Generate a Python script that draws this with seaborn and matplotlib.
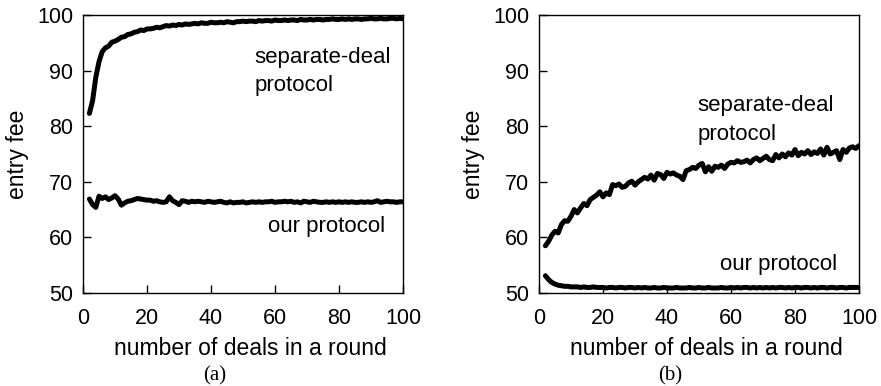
import matplotlib
matplotlib.use("Agg")
import matplotlib.pyplot as plt
import seaborn as sns
import numpy as np
import pandas as pd

sns.set_theme(style="white")
plt.rcParams['font.family'] = ['Liberation Sans', 'DejaVu Sans']
plt.rcParams['text.color'] = 'black'
plt.rcParams['axes.labelcolor'] = 'black'

deals = list(range(2, 101))

a_separate = [
    82.3, 84.6, 88.8, 91.6, 93.4, 94.1, 94.4, 95.1, 95.3, 95.6,
    96.0, 96.1, 96.5, 96.6, 96.9, 97.0, 97.3, 97.2, 97.5, 97.5,
    97.6, 97.8, 97.7, 97.9, 98.1, 98.0, 98.2, 98.1, 98.3, 98.2,
    98.4, 98.3, 98.4, 98.5, 98.4, 98.6, 98.5, 98.5, 98.7, 98.6,
    98.6, 98.7, 98.6, 98.8, 98.7, 98.6, 98.8, 98.8, 98.9, 98.8,
    98.9, 98.9, 98.8, 99.0, 98.9, 99.0, 99.0, 98.9, 99.1, 99.0,
    99.0, 99.1, 99.0, 99.1, 99.1, 99.0, 99.2, 99.1, 99.1, 99.2,
    99.1, 99.2, 99.2, 99.1, 99.2, 99.2, 99.3, 99.2, 99.2, 99.3,
    99.2, 99.3, 99.2, 99.3, 99.3, 99.2, 99.3, 99.3, 99.4, 99.3,
    99.3, 99.4, 99.3, 99.3, 99.4, 99.4, 99.3, 99.4, 99.3,
]
a_ours = [
    66.9, 65.9, 65.4, 67.4, 67.0, 67.3, 66.8, 67.1, 67.5, 66.9,
    65.8, 66.2, 66.5, 66.6, 66.8, 67.0, 66.9, 66.8, 66.7, 66.7,
    66.5, 66.6, 66.4, 66.3, 66.4, 67.3, 66.6, 66.3, 65.9, 66.6,
    66.5, 66.3, 66.5, 66.4, 66.5, 66.4, 66.3, 66.5, 66.4, 66.3,
    66.4, 66.5, 66.3, 66.2, 66.4, 66.2, 66.3, 66.3, 66.4, 66.2,
    66.3, 66.4, 66.3, 66.4, 66.3, 66.4, 66.4, 66.5, 66.3, 66.4,
    66.4, 66.5, 66.4, 66.5, 66.3, 66.4, 66.2, 66.5, 66.4, 66.3,
    66.5, 66.4, 66.3, 66.3, 66.4, 66.3, 66.4, 66.3, 66.4, 66.3,
    66.4, 66.3, 66.4, 66.3, 66.3, 66.4, 66.3, 66.4, 66.3, 66.4,
    66.6, 66.3, 66.4, 66.5, 66.4, 66.4, 66.3, 66.4, 66.4,
]
b_separate = [
    58.5, 59.3, 60.4, 61.1, 60.8, 62.3, 63.0, 62.9, 63.8, 65.0,
    64.4, 65.3, 66.1, 65.7, 66.8, 67.2, 67.6, 68.2, 67.3, 68.0,
    67.7, 69.5, 69.3, 69.6, 69.0, 69.2, 69.8, 70.1, 69.4, 70.0,
    70.4, 70.8, 70.5, 71.2, 70.3, 71.5, 71.3, 70.6, 71.7, 71.4,
    71.6, 71.2, 71.0, 70.4, 72.0, 72.2, 72.6, 72.4, 73.0, 73.3,
    71.8, 72.7, 71.9, 72.8, 72.6, 73.0, 72.4, 73.2, 73.5, 73.4,
    73.8, 73.5, 73.6, 73.9, 73.4, 74.0, 74.3, 73.8, 74.2, 74.6,
    74.0, 73.8, 74.9, 74.3, 75.0, 74.5, 75.2, 74.8, 75.8, 74.7,
    75.3, 75.0, 75.6, 74.9, 75.4, 75.1, 75.9, 74.8, 76.2, 75.0,
    75.3, 75.6, 74.0, 75.8, 75.3, 76.1, 76.3, 76.0, 76.5,
]
b_ours = [
    53.1, 52.4, 51.9, 51.6, 51.4, 51.3, 51.2, 51.2, 51.1, 51.1,
    51.1, 51.0, 51.1, 51.0, 51.0, 51.1, 51.0, 51.0, 51.0, 50.9,
    51.0, 51.0, 50.9, 51.0, 51.0, 50.9, 51.0, 51.0, 50.9, 51.0,
    50.9, 51.0, 50.9, 50.9, 51.0, 50.9, 50.9, 51.0, 50.9, 50.9,
    50.9, 51.0, 50.9, 50.9, 50.9, 51.0, 50.9, 50.9, 51.0, 50.9,
    50.9, 51.0, 50.9, 50.9, 50.9, 51.0, 50.9, 50.9, 51.0, 50.9,
    51.0, 50.9, 51.0, 51.0, 50.9, 51.0, 50.9, 51.0, 50.9, 51.0,
    50.9, 51.0, 50.9, 51.0, 51.0, 50.9, 51.0, 50.9, 51.0, 51.0,
    50.9, 51.0, 51.0, 50.9, 51.0, 50.9, 51.0, 51.0, 50.9, 51.0,
    51.0, 50.9, 51.0, 51.0, 50.9, 51.0, 51.0, 51.0, 51.0,
]

x_ticks = [0, 20, 40, 60, 80, 100]
y_ticks = [50, 60, 70, 80, 90, 100]

fig = plt.figure(figsize=(8.81, 3.86), dpi=100)
W, H = 881, 386
ax1 = fig.add_axes([83 / W, (H - 293) / H, 320 / W, 278 / H])
ax2 = fig.add_axes([539 / W, (H - 293) / H, 320 / W, 278 / H])

tick_fs = 15.5
label_fs = 16.5
note_fs = 16


def draw(ax, sep, ours, sep_xy, our_xy):
    df = pd.DataFrame({"deals": deals, "sep": sep, "ours": ours})
    sns.lineplot(data=df, x="deals", y="sep", ax=ax, color="black", lw=3.6)
    sns.lineplot(data=df, x="deals", y="ours", ax=ax, color="black", lw=3.6)
    ax.set_xlim(0, 100)
    ax.set_ylim(50, 100)
    ax.set_xticks(x_ticks)
    ax.set_yticks(y_ticks)
    ax.tick_params(direction="in", length=6, width=1, colors="black",
                   labelsize=tick_fs, left=True, bottom=True, top=False,
                   right=False)
    ax.tick_params(axis="x", pad=11)
    ax.tick_params(axis="y", pad=7)
    for s in ax.spines.values():
        s.set_color("black")
        s.set_linewidth(1.0)
    ax.set_xlabel("number of deals in a round", fontsize=label_fs)
    ax.xaxis.set_label_coords(0.524, -0.158)
    ax.set_ylabel("entry fee", fontsize=label_fs, labelpad=6)
    ax.text(sep_xy[0], sep_xy[1], "separate-deal", fontsize=note_fs,
            ha="left", va="baseline")
    ax.text(sep_xy[0], sep_xy[1] - 5.1, "protocol", fontsize=note_fs,
            ha="left", va="baseline")
    ax.text(our_xy[0], our_xy[1], "our protocol", fontsize=note_fs,
            ha="left", va="baseline")


draw(ax1, a_separate, a_ours, (53.5, 91.4), (57.8, 61.0))
draw(ax2, b_separate, b_ours, (49.4, 82.7), (56.6, 54.1))

serif = ["Liberation Serif", "DejaVu Serif"]
fig.text(215 / W, 1 - 376 / H, "(a)", ha="center", va="center",
         fontsize=15, family=serif)
fig.text(670 / W, 1 - 376 / H, "(b)", ha="center", va="center",
         fontsize=15, family=serif)

fig.savefig("out.png", dpi=100)
